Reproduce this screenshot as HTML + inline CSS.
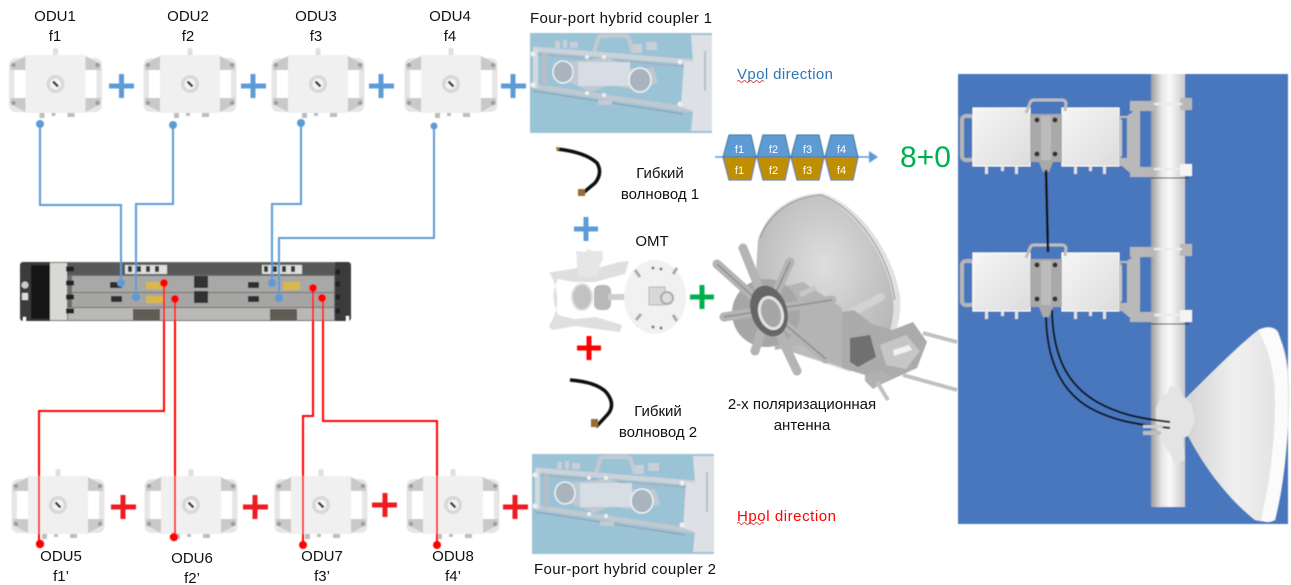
<!DOCTYPE html>
<html lang="en">
<head>
<meta charset="utf-8">
<title>8+0 ODU diagram</title>
<style>
html,body{margin:0;padding:0;background:#fff;width:1291px;height:585px;overflow:hidden}
svg{display:block}
text{font-family:"Liberation Sans","DejaVu Sans",sans-serif;font-size:15px;fill:#111}
.c{text-anchor:middle}
.w{font-size:11px;fill:#fff}
</style>
</head>
<body>
<svg width="1291" height="585" viewBox="0 0 1291 585" xmlns="http://www.w3.org/2000/svg">
<defs>
<linearGradient id="pole" x1="0" x2="1" y1="0" y2="0">
<stop offset="0" stop-color="#9a9c9e"/><stop offset=".3" stop-color="#e4e4e4"/><stop offset=".55" stop-color="#fafafa"/><stop offset="1" stop-color="#c9c9c9"/>
</linearGradient>
<linearGradient id="box" x1="0" x2="1" y1="0" y2="1">
<stop offset="0" stop-color="#f6f6f6"/><stop offset="1" stop-color="#dcdcdc"/>
</linearGradient>
<linearGradient id="dishg" x1="0" x2="1" y1="0" y2="0">
<stop offset="0" stop-color="#d2d3d3"/><stop offset=".5" stop-color="#f0f0f0"/><stop offset="1" stop-color="#dedede"/>
</linearGradient>
<radialGradient id="dishb" cx=".5" cy=".4" r=".6">
<stop offset="0" stop-color="#dedede"/><stop offset="1" stop-color="#b6b6b6"/>
</radialGradient>
<filter id="b" x="-5%" y="-5%" width="110%" height="110%"><feGaussianBlur stdDeviation=".45"/></filter>

<g id="odu">
<rect x="-2.500" y="-36" width="5" height="8" rx="2" fill="#e0e0e0"/>
<rect x="-46.500" y="-26" width="93" height="54" rx="7" fill="#e6e6e6"/>
<rect x="-30" y="-29" width="60" height="58" fill="#f0f0f0"/>
<rect x="-41" y="-15" width="11" height="30" rx="1" fill="#fff"/>
<rect x="30" y="-15" width="11" height="30" rx="1" fill="#fff"/>
<path d="M-45-20l15-8v14h-15zM45-20l-15-8v14h15zM-45 20l15 8v-14h-15zM45 20l-15 8v-14h15z" fill="#c9c9c9"/>
<circle cx="-42" cy="-19" r="2.200" fill="#9d9d9d"/><circle cx="42" cy="-19" r="2.200" fill="#9d9d9d"/>
<circle cx="-42" cy="19" r="2.200" fill="#9d9d9d"/><circle cx="42" cy="19" r="2.200" fill="#9d9d9d"/>
<circle r="9" fill="#d8d8d8"/><circle r="5.500" fill="#f4f4f4"/>
<path d="M-2.500-2.500l5 5" stroke="#333" stroke-width="2.500"/>
<path d="M-16 29h5v5h-5zM12 29h7v4h-7zM-4 29h4v3h-4z" fill="#bdbdbd"/>
</g>

<g id="coupler">
<rect width="182" height="100" fill="#9bc3d6"/>
<path d="M64 19l4-13q1-3 4-3h23q3 0 4 3l4 14" fill="none" stroke="#c3cad1" stroke-width="4"/>
<path d="M25 8h5v7h-5zM33 7h4v8h-4zM40 9h8v6h-8zM103 11h9v9h-9zM116 9h11v8h-11z" fill="#c8cfd6"/>
<path d="M3 16l160 13" stroke="#ccd2d9" stroke-width="5" fill="none"/>
<path d="M3 21l160 13" stroke="#a5afba" stroke-width="1.500" fill="none"/>
<path d="M3 53l160 24" stroke="#c0c8d0" stroke-width="5" fill="none"/>
<path d="M3 58l150 23" stroke="#8ea2b2" stroke-width="1.200" fill="none"/>
<path d="M3 15h5v40h-5z" fill="#d4d9df"/><path d="M12 20h5v34h-5z" fill="#b5bec7"/>
<path d="M23 30l34-3 20-3 23 11h23l5 15-21 7-27-5-18 7-29-12z" fill="#bfc9d2"/>
<path d="M48 29h52v24H48z" fill="#d6dde4"/>
<ellipse cx="33" cy="39" rx="10" ry="11" fill="#a9b4be" stroke="#eef1f4" stroke-width="1.500"/>
<ellipse cx="110" cy="47" rx="11" ry="12" fill="#a9b4be" stroke="#f2f4f6" stroke-width="1.500"/>
<path d="M161 2h21v96h-21l2-20-12-4 3-46 9 1z" fill="#dde0e5"/>
<path d="M175 18v40" stroke="#b9c0c8" stroke-width="2"/>
<rect x="68" y="67" width="14" height="5" fill="#c3cad1"/>
<circle cx="3" cy="21" r="2.500" fill="#eef1f4"/><circle cx="150" cy="29" r="2.500" fill="#eef1f4"/><circle cx="150" cy="71" r="2.500" fill="#eef1f4"/><circle cx="3" cy="52" r="2.500" fill="#eef1f4"/>
<circle cx="57" cy="24" r="2" fill="#eef1f4"/><circle cx="74" cy="24" r="2" fill="#eef1f4"/><circle cx="57" cy="60" r="2" fill="#eef1f4"/><circle cx="74" cy="62" r="2" fill="#eef1f4"/>
</g>

<g id="rbox">
<rect x="-11" y="8" width="12" height="44" fill="none" stroke="#b5b5b5" stroke-width="4" rx="4"/>
<rect width="57" height="58" fill="url(#box)" stroke="#fff"/>
<path d="M12 58h3v8h-3zM28 58h3v5h-3zM42 58h3v8h-3z" fill="#e2e2e2"/>
<rect x="89" width="57" height="58" fill="url(#box)" stroke="#fff"/>
<path d="M101 58h3v8h-3zM116 58h3v5h-3zM130 58h3v8h-3z" fill="#e2e2e2"/>
<rect x="57" y="6" width="32" height="48" fill="#a9a9a9"/>
<rect x="68" y="8" width="10" height="44" fill="#bcbcbc"/>
<path d="M58 5l4-10q1-3 4-3h28q3 0 4 3l-1 8" transform="translate(-5 0)" fill="none" stroke="#bdbdbd" stroke-width="3"/>
<circle cx="64" cy="12" r="2.500" fill="#333"/><circle cx="82" cy="12" r="2.500" fill="#333"/><circle cx="64" cy="46" r="2.500" fill="#333"/><circle cx="82" cy="46" r="2.500" fill="#333"/>
<path d="M66 54h14l-4 10h-6z" fill="#a9a9a9"/>
<path d="M146 8h8l11-8h2v64h-11l-7-6h-3z" fill="#b9b9b9"/>
<rect x="148" y="10" width="6" height="40" fill="#4877bd"/>
<rect x="147" y="12" width="2" height="36" fill="#c9c9c9"/>
</g>
</defs>

<g filter="url(#b)">
<!-- ODUs -->
<use href="#odu" x="55.500" y="84"/><use href="#odu" x="190" y="84"/><use href="#odu" x="318" y="84"/><use href="#odu" x="451" y="84"/>
<use href="#odu" x="58" y="505"/><use href="#odu" x="191" y="505"/><use href="#odu" x="321" y="505"/><use href="#odu" x="453" y="505"/>

<!-- couplers -->
<use href="#coupler" x="530" y="33"/><use href="#coupler" x="532" y="454"/>

<!-- chassis -->
<rect x="20" y="262" width="331" height="59" rx="3" fill="#3a3a3a"/>
<rect x="50" y="262" width="285" height="59" fill="#6e6e6e"/>
<rect x="50" y="263" width="17" height="57" fill="#d8d9d5"/>
<rect x="31" y="265" width="19" height="54" fill="#151515"/>
<rect x="67" y="263" width="268" height="12" fill="#585858"/>
<rect x="72" y="276" width="262" height="16" fill="#a8a8a6"/>
<rect x="72" y="293" width="262" height="14" fill="#a5a5a3"/>
<rect x="68" y="308" width="266" height="12" fill="#b9b8b4"/>
<path d="M125 265h42v9h-42zM262 265h40v9h-40z" fill="#dedfdc"/>
<path d="M128 266h4v6h-4zM137 266h4v6h-4zM146 266h4v6h-4zM155 266h4v6h-4zM264 266h4v6h-4zM273 266h4v6h-4zM282 266h4v6h-4zM291 266h4v6h-4z" fill="#2f3a38"/>
<path d="M146 282h17v7h-17zM146 296h17v7h-17zM283 282h17v8h-17z" fill="#d9b84a"/>
<path d="M133 309h27v11h-27zM270 309h27v11h-27z" fill="#5e5c56"/>
<path d="M110 282h12v6h-12zM111 296h11v6h-11zM248 282h11v6h-11zM248 296h11v6h-11z" fill="#2e2e2e"/>
<path d="M194 276h14v12h-14zM194 291h14v12h-14z" fill="#333"/>
<path d="M66 269h8M66 283h8M66 297h8M66 311h8M335 272h5M335 284h5M335 297h5M335 311h5" stroke="#222" stroke-width="5"/>
<circle cx="25" cy="285" r="3.500" fill="#ccc"/><rect x="22" y="293" width="6" height="7" fill="#ddd"/>
<rect x="23" y="317" width="3" height="5" fill="#fff"/><rect x="346" y="316" width="3" height="6" fill="#fff"/>

<!-- blue connectors -->
<path d="M40 124V205H121V283M173 125V204H136V297M301 123V204H272V283M434 126V238H279V298" fill="none" stroke="#5b9bd5" stroke-width="2"/>
<g fill="#5b9bd5">
<circle cx="40" cy="124" r="4"/><circle cx="173" cy="125" r="4"/><circle cx="301" cy="123" r="4"/><circle cx="434" cy="126" r="3.500"/>
<circle cx="121" cy="283" r="4"/><circle cx="136" cy="297" r="4"/><circle cx="272" cy="283" r="4"/><circle cx="279" cy="298" r="4"/>
</g>
<!-- red connectors -->
<path d="M164 283V411H39V544M175 299V537M313 288V416H303V545M323 298V421H437V545" fill="none" stroke="#f00" stroke-width="2"/>
<g fill="#f00">
<circle cx="164" cy="283" r="4"/><circle cx="175" cy="299" r="4"/><circle cx="313" cy="288" r="4"/><circle cx="322" cy="298" r="4"/>
<circle cx="40" cy="544" r="4.200"/><circle cx="174" cy="537" r="4.200"/><circle cx="303" cy="545" r="4"/><circle cx="437" cy="545" r="4"/>
</g>

<!-- plus signs -->
<path d="M109 86h25M121.500 74v24M241 86h25M253 74v24M369 86h25M381 74v24M501 86h25M513 74v24M574 229h24M586 217v24" stroke="#5b9bd5" stroke-width="5" fill="none"/>
<path d="M111 507h25M123 495v24M243 507h25M255 495v24M372 505h25M385 493v24M503 507h25M515 495v24" stroke="#ed1c24" stroke-width="5" fill="none"/>
<path d="M577 348h24M589 336v24" stroke="#f00" stroke-width="5" fill="none"/>
<path d="M690 297h24M702 285v24" stroke="#00b050" stroke-width="5" fill="none"/>

<!-- waveguides -->
<path d="M557 149q28 3 40 14q6 10-2 20l-12 10" fill="none" stroke="#111" stroke-width="3.500"/>
<rect x="556" y="147" width="3" height="3" fill="#b58a3c"/>
<rect x="578" y="189" width="7" height="7" fill="#9a6b30"/>
<path d="M570 380q26 2 36 12q10 12 2 22l-12 13" fill="none" stroke="#111" stroke-width="3.500"/>
<rect x="591" y="419" width="7" height="8" fill="#9a6b30"/>

<!-- tag arrow -->
<path d="M715 157h155" stroke="#5b9bd5" stroke-width="1.500"/>
<path d="M869 151l9 6-9 6z" fill="#5b9bd5"/>
<g stroke="#41719c" stroke-width="1">
<path d="M729 135h22l5 22h-33z" fill="#5b9bd5"/><path d="M723 157h33l-5 23h-22z" fill="#bf8f00"/>
<path d="M763 135h22l5 22h-33z" fill="#5b9bd5"/><path d="M757 157h33l-5 23h-22z" fill="#bf8f00"/>
<path d="M797 135h22l5 22h-33z" fill="#5b9bd5"/><path d="M791 157h33l-5 23h-22z" fill="#bf8f00"/>
<path d="M831 135h22l5 22h-33z" fill="#5b9bd5"/><path d="M825 157h33l-5 23h-22z" fill="#bf8f00"/>
</g>

<!-- OMT -->
<path d="M547 273l30-5 18 1 24-7 10-1-4 13-30 8H574l-16-3q-9 16 0 36l16 4 22-2 26 8-2 7-24-3-20-3-24 4-3-4q16-24 1-53z" fill="#dfdfdf"/>
<path d="M576 251l10 1 1-3 6 2h9l1 8-4 8-2 10h-18l-2-12z" fill="#e6e6e6"/>
<ellipse cx="582" cy="297" rx="10" ry="13" fill="#c2c2c2" stroke="#e0e0e0" stroke-width="2"/>
<rect x="594" y="285" width="17" height="25" rx="6" fill="#b8b8b8"/>
<rect x="608" y="294" width="18" height="6" fill="#cfcfcf"/>
<ellipse cx="655" cy="297" rx="31" ry="37" fill="#f1f1f1"/>
<rect x="649" y="287" width="16" height="18" fill="#d8d8d8" stroke="#b5b5b5"/>
<circle cx="667" cy="298" r="6" fill="#ddd" stroke="#aaa" stroke-width="2"/>
<path d="M635 270l5 7M677 268l-4 6M636 320l5-6M677 321l-4-6" stroke="#aaa" stroke-width="3"/>
<circle cx="653" cy="268" r="1.500" fill="#777"/><circle cx="661" cy="269" r="1.500" fill="#777"/><circle cx="653" cy="327" r="1.500" fill="#777"/><circle cx="661" cy="328" r="1.500" fill="#777"/>

<!-- antenna -->
<path d="M758 240C766 212 790 194 822 193C858 204 892 250 900 295C902 315 896 332 892 345L850 372L770 345L755 290Z" fill="#e0e0e0"/>
<path d="M758 240C768 212 792 197 821 196C852 208 886 252 893 297C895 316 890 332 886 345L850 370L770 345L755 290Z" fill="url(#dishb)"/>
<path d="M760 238C770 212 792 197 821 195C856 208 888 252 895 300" fill="none" stroke="#8d8d8d" stroke-width="1"/>
<path d="M770 290L803 282L842 308L843 368L800 345L775 350Z" fill="#b4b4b4"/>
<circle cx="766" cy="313" r="34" fill="#a6a6a6"/>
<path d="M768 310L717 264M768 310L743 248M768 310L790 262M768 310L832 300M768 310L826 359M768 310L797 371M768 310L755 351M768 310L724 317" stroke="#b4b4b4" stroke-width="9" stroke-linecap="round" fill="none"/>
<path d="M768 310L717 264M768 310L790 262M768 310L832 300M768 310L826 359M768 310L724 317" stroke="#8f8f8f" stroke-width="1.500" fill="none"/>
<ellipse cx="769" cy="311" rx="18" ry="26" transform="rotate(-18 769 311)" fill="#666"/>
<ellipse cx="771" cy="313" rx="11" ry="16" transform="rotate(-18 771 313)" fill="#a6a6a6" stroke="#e2e2e2" stroke-width="3"/>
<path d="M800 295l16-8" stroke="#c8c8c8" stroke-width="5"/>
<path d="M849 314l32-17" stroke="#d2d2d2" stroke-width="8" stroke-linecap="round"/>
<path d="M842 312l12-2 18 14 20 6 21-8 14 20-10 26-44 20-8-13-23-7z" fill="#ababab"/>
<path d="M850 338l20-3 6 22-18 10-8-5z" fill="#6f6f6f"/>
<path d="M880 345l26-10 14 16-14 18-20-4z" fill="#c6c6c6"/>
<path d="M893 350l16-5 3 5-18 6z" fill="#f2f2f2"/>
<path d="M865 374l16-3 12 6-20 12-8-8z" fill="#b1b1b1"/>
<path d="M923 333l34 9M903 375l54 15M877 382l11 18" stroke="#c0c0c0" stroke-width="4" fill="none"/>

<!-- right panel -->
<rect x="958" y="74" width="330" height="450" fill="#4877bd"/>
<rect x="1151" y="74" width="34" height="433" fill="url(#pole)"/>
<g fill="#b8b8b8">
<path d="M1130 101h24v10h-24zM1180 98h12v12h-12zM1130 167h24v10h-24zM1130 247h24v10h-24zM1180 244h12v12h-12zM1130 312h24v10h-24z"/>
</g>
<path d="M1154 104h28M1154 169h28M1154 249h28M1154 315h28" stroke="#ececec" stroke-width="2.500"/>
<path d="M1151 178h38M1151 324h38" stroke="#222" stroke-width="1"/>
<rect x="1180" y="164" width="12" height="12" fill="#f4f4f4"/><rect x="1180" y="310" width="12" height="12" fill="#f4f4f4"/>
<use href="#rbox" x="973" y="108"/><use href="#rbox" x="973" y="253"/>
<path d="M1046 170l2 82" stroke="#111" stroke-width="2.500"/>
<path d="M1185 399c20-20 50-50 72-68q10-3 18-1 15 20 14 70-1 62-14 120-8 3-20 0c-25-20-50-50-70-90z" fill="url(#dishg)"/>
<path d="M1258 330q14-6 20 2 11 30 10 68 0 68-13 120-8 4-14 0 14-60 14-120 0-40-17-70z" fill="#fbfbfb"/>
<path d="M1170 386l10 2 2 7 9 8 4 18-7 15-5 2 2 22-10 4-6-12-9-14-4-16 0-14 5-12 6-2z" fill="#e4e4e4"/>
<path d="M1046 317C1047 362 1062 392 1090 408C1110 419 1130 424 1170 428" fill="none" stroke="#111" stroke-width="2"/>
<path d="M1052 310C1053 358 1068 385 1097 402C1117 413 1135 418 1170 422" fill="none" stroke="#111" stroke-width="2"/>
<rect x="1143" y="425" width="20" height="3" fill="#cfcfcf"/>
<rect x="1143" y="431" width="18" height="4" fill="#bdbdbd"/>
</g>

<!-- text -->
<text class="c" x="55" y="21">ODU1</text><text class="c" x="55" y="41">f1</text>
<text class="c" x="188" y="21">ODU2</text><text class="c" x="188" y="41">f2</text>
<text class="c" x="316" y="21">ODU3</text><text class="c" x="316" y="41">f3</text>
<text class="c" x="450" y="21">ODU4</text><text class="c" x="450" y="41">f4</text>
<text class="c" x="61" y="561">ODU5</text><text class="c" x="61" y="581">f1’</text>
<text class="c" x="192" y="563">ODU6</text><text class="c" x="192" y="583">f2’</text>
<text class="c" x="322" y="561">ODU7</text><text class="c" x="322" y="581">f3’</text>
<text class="c" x="453" y="561">ODU8</text><text class="c" x="453" y="581">f4’</text>
<text x="530" y="23" textLength="182">Four-port hybrid coupler 1</text>
<text x="534" y="574" textLength="182">Four-port hybrid coupler 2</text>
<text x="737" y="79" textLength="96" style="fill:#2e75b6">Vpol direction</text>
<text x="737" y="521" textLength="99" style="fill:#f00">Hpol direction</text>
<path d="M737 81.500q1.500-2 3 0t3 0 3 0 3 0 3 0 3 0 3 0 3 0 3 0" stroke="#c33" stroke-width=".8" fill="none"/>
<path d="M737 523.500q1.500-2 3 0t3 0 3 0 3 0 3 0 3 0 3 0 3 0 3 0" stroke="#c33" stroke-width=".8" fill="none"/>
<text class="c" x="660" y="178">Гибкий</text><text class="c" x="660" y="199">волновод 1</text>
<text class="c" x="652" y="246">OMT</text>
<text class="c" x="658" y="416">Гибкий</text><text class="c" x="658" y="437">волновод 2</text>
<text class="c" x="802" y="409">2-х поляризационная</text><text class="c" x="802" y="430">антенна</text>
<text x="900" y="167" style="font-size:30px;fill:#00b050">8+0</text>
<text class="c w" x="739.500" y="153">f1</text><text class="c w" x="739.500" y="174">f1</text>
<text class="c w" x="773.500" y="153">f2</text><text class="c w" x="773.500" y="174">f2</text>
<text class="c w" x="807.500" y="153">f3</text><text class="c w" x="807.500" y="174">f3</text>
<text class="c w" x="841.500" y="153">f4</text><text class="c w" x="841.500" y="174">f4</text>
</svg>
</body>
</html>
